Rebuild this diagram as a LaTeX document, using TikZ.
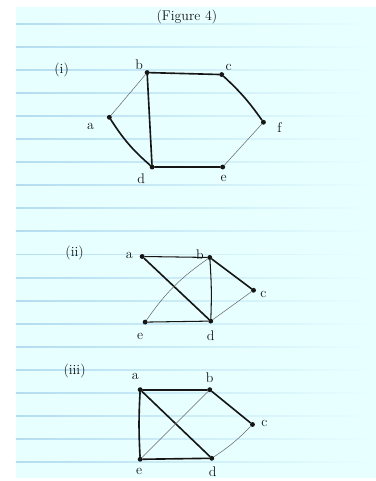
\documentclass[tikz,border=0pt]{standalone}
\usetikzlibrary{positioning}
\definecolor{pgpaper}{HTML}{E8FFFF}
\definecolor{pgrule}{HTML}{B4DDF0}
\definecolor{pgink}{HTML}{161616}
\tikzset{
  vtx/.style={circle,fill=pgink,inner sep=0pt,minimum size=4.2pt},
  lbl/.style={text=pgink,font=\large},
  heavy/.style={pgink,line width=1.4pt,line cap=round},
  mid/.style={pgink,line width=0.9pt,line cap=round},
  light/.style={pgink!65,line width=0.45pt},
}
\begin{document}
\begin{tikzpicture}[x=0.03cm,y=-0.03cm]
  % ---------- paper ----------
  \fill[white] (0,0) rectangle (378,481);
  \fill[pgpaper] (16,7) rectangle (378,481);
  \foreach \k in {0,...,19}{
    \shade[left color=pgrule,right color=pgpaper] (16,24+\k*23.2-0.45) rectangle (378,24+\k*23.2+0.45);}
  \node[lbl] (ttl) at (188,17) {(Figure 4)};
  % ---------- (i) ----------
  \node[lbl] (hd1) at (62,70) {(i)};
  \node[vtx] (a1) at (110,118) {};
  \node[vtx] (b1) at (148,73) {};
  \node[vtx] (c1) at (223,75) {};
  \node[vtx] (d1) at (153,168) {};
  \node[vtx] (e1) at (224,168) {};
  \node[vtx] (f1) at (265,123) {};
  \node[lbl] (la1) at (91,127) {a};
  \node[lbl] (lb1) at (140,65) {b};
  \node[lbl] (lc1) at (230,68) {c};
  \node[lbl] (ld1) at (142,180) {d};
  \node[lbl] (le1) at (225,180) {e};
  \node[lbl] (lf1) at (281,128) {f};
  \draw[light] (a1)--(b1);
  \draw[heavy] (a1) to[bend right=8] (d1);
  \draw[heavy] (b1)--(c1);
  \draw[heavy] (b1)--(d1);
  \draw[heavy] (c1) to[bend left=6] (f1);
  \draw[light] (f1)--(e1);
  \draw[heavy] (d1)--(e1);
  % ---------- (ii) ----------
  \node[lbl] (hd2) at (75,255) {(ii)};
  \node[vtx] (a2) at (143,258) {};
  \node[vtx] (b2) at (211,259) {};
  \node[vtx] (c2) at (255,292) {};
  \node[vtx] (d2) at (212,323) {};
  \node[vtx] (e2) at (146,324) {};
  \node[lbl] (la2) at (130,257) {a};
  \node[lbl] (lb2) at (201,256) {b};
  \node[lbl] (lc2) at (265,296) {c};
  \node[lbl] (ld2) at (212,338) {d};
  \node[lbl] (le2) at (141,338) {e};
  \draw[mid] (a2)--(b2);
  \draw[heavy] (a2)--(d2);
  \draw[light] (e2) to[bend left=10] (b2);
  \draw[heavy] (b2)--(c2);
  \draw[mid] (b2) to[bend left=3] (d2);
  \draw[light] (c2)--(d2);
  \draw[mid] (e2)--(d2);
  % ---------- (iii) ----------
  \node[lbl] (hd3) at (75,373) {(iii)};
  \node[vtx] (a3) at (141,392) {};
  \node[vtx] (b3) at (211,392) {};
  \node[vtx] (c3) at (254,427) {};
  \node[vtx] (d3) at (213,461) {};
  \node[vtx] (e3) at (141,462) {};
  \node[lbl] (la3) at (136,379) {a};
  \node[lbl] (lb3) at (211,380) {b};
  \node[lbl] (lc3) at (266,426) {c};
  \node[lbl] (ld3) at (214,475) {d};
  \node[lbl] (le3) at (140,474) {e};
  \draw[heavy] (a3)--(b3);
  \draw[heavy] (a3) to[bend right=3] (e3);
  \draw[heavy] (a3)--(d3);
  \draw[light] (e3)--(b3);
  \draw[heavy] (b3)--(c3);
  \draw[light] (c3) to[bend left=6] (d3);
  \draw[heavy] (e3)--(d3);
\end{tikzpicture}
\end{document}
